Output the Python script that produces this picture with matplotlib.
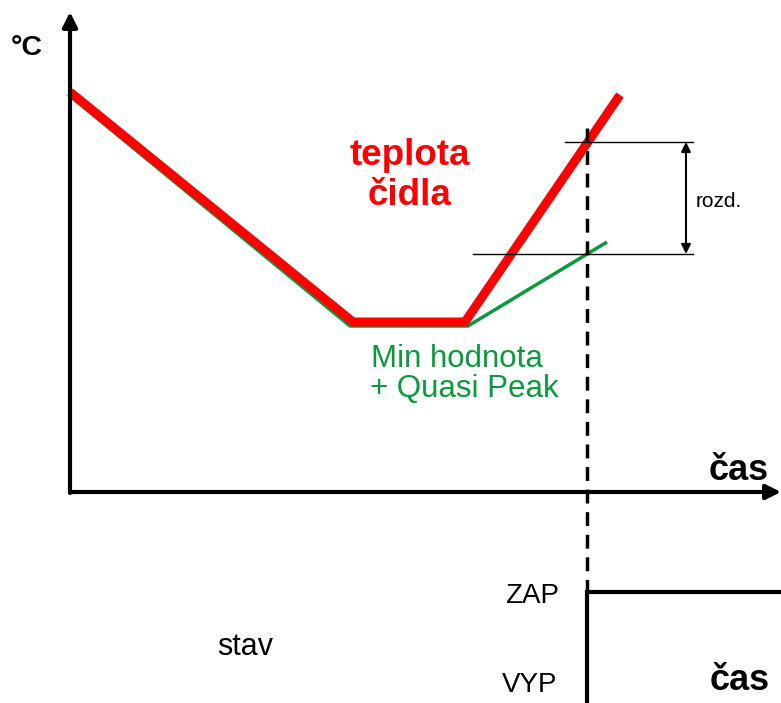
import matplotlib
matplotlib.use("Agg")
import matplotlib.pyplot as plt

plt.rcParams['font.family'] = ['Liberation Sans', 'DejaVu Sans']

# diagram coordinates (pixel-like units, y grows downward)
red_x = [70, 353, 465, 620]
red_y = [92, 322, 322, 95]
green_x = [70, 350, 468, 607]
green_y = [96, 326, 326, 242]
switch_x = 587
level_hi = 142
level_lo = 254
state_x = [587, 587, 781]
state_y = [703, 592, 592]

fig = plt.figure(figsize=(7.81, 7.03), dpi=100)
ax = fig.add_axes([0, 0, 1, 1])
ax.set_xlim(0, 781)
ax.set_ylim(703, 0)
ax.axis('off')

# axes with arrows
ax.annotate('', xy=(70, 12), xytext=(70, 493),
            arrowprops=dict(arrowstyle='-|>', color='black', lw=3, mutation_scale=22, shrinkA=0, shrinkB=0))
ax.annotate('', xy=(781, 492), xytext=(70, 492),
            arrowprops=dict(arrowstyle='-|>', color='black', lw=3, mutation_scale=22, shrinkA=0, shrinkB=0))

ax.plot(green_x, green_y, color='#0a9a3c', lw=2.5, solid_joinstyle='miter', solid_capstyle='butt')
ax.plot(red_x, red_y, color='#ff0000', lw=6.5, solid_joinstyle='miter', solid_capstyle='butt')

# switch moment
ax.plot([switch_x, switch_x], [128, 592], color='black', lw=2.5, ls=(0, (4, 2.5)))
ax.plot(state_x, state_y, color='black', lw=3, solid_joinstyle='miter', solid_capstyle='butt')

# difference marker
ax.plot([565, 693], [level_hi, level_hi], color='black', lw=1)
ax.plot([473, 693], [level_lo, level_lo], color='black', lw=1)
ax.annotate('', xy=(686, level_hi), xytext=(686, level_lo),
            arrowprops=dict(arrowstyle='<|-|>', color='black', lw=1.5, mutation_scale=14, shrinkA=0, shrinkB=0))

ax.text(696, 207, 'rozd.', fontsize=15, va='baseline', ha='left')
ax.text(11, 55, '°C', fontsize=20.5, fontweight='bold', va='baseline', ha='left')
ax.text(709, 480, 'čas', fontsize=26, fontweight='bold', va='baseline', ha='left')
ax.text(710, 690, 'čas', fontsize=26, fontweight='bold', va='baseline', ha='left')
ax.text(410, 165, 'teplota', fontsize=26.5, fontweight='bold', color='#ff0000', va='baseline', ha='center')
ax.text(410, 205, 'čidla', fontsize=26.5, fontweight='bold', color='#ff0000', va='baseline', ha='center')
ax.text(371, 367, 'Min hodnota', fontsize=22.5, color='#0a9a3c', va='baseline', ha='left')
ax.text(370, 397, '+ Quasi Peak', fontsize=22.5, color='#0a9a3c', va='baseline', ha='left')
ax.text(505, 603, 'ZAP', fontsize=20, va='baseline', ha='left')
ax.text(502, 692, 'VYP', fontsize=20, va='baseline', ha='left')
ax.text(217, 655, 'stav', fontsize=22, va='baseline', ha='left')

fig.savefig('out.png', dpi=100)
